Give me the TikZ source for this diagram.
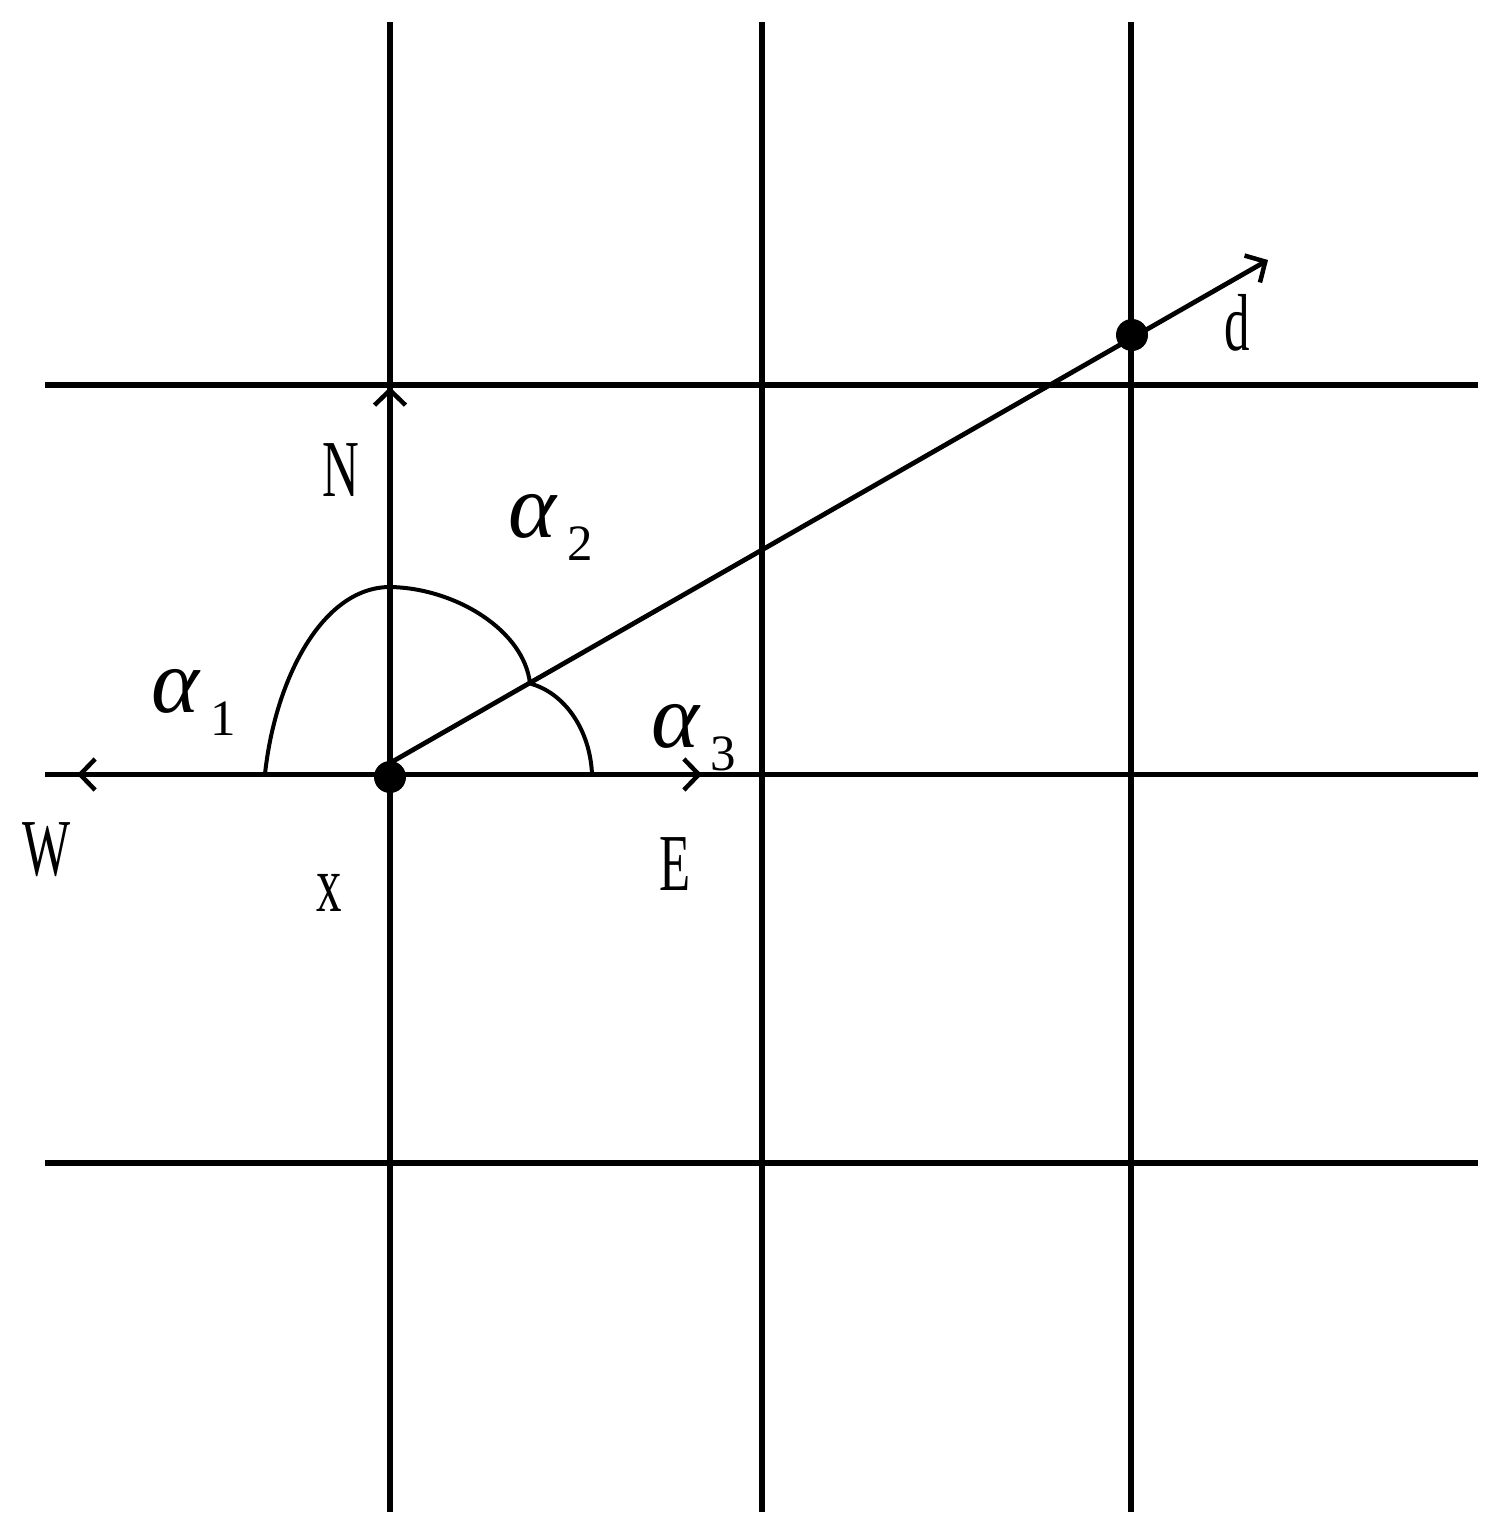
\documentclass[tikz,border=0pt]{standalone}
\usepackage{fontspec}
\setmainfont{Liberation Serif}
\usepackage{graphicx}
\usetikzlibrary{arrows.meta}
\newcommand{\Narrow}[1]{\scalebox{0.63}[1]{#1}}
\newcommand{\Angle}[1]{{\itshape α}\hspace{0.22cm}\raisebox{-0.46cm}{\fontsize{29}{30}\selectfont #1}}
\tikzset{
  gridline/.style={line width=0.105cm},
  ray/.style={line width=0.095cm, -{Straight Barb[length=0.3cm,width=0.62cm,line width=0.09cm]}},
  anglearc/.style={line width=0.08cm},
  dot/.style={circle, fill=black, inner sep=0pt, minimum size=0.64cm},
  dirlabel/.style={inner sep=0pt, font=\fontsize{46}{52}\selectfont},
  anglelabel/.style={inner sep=0pt, anchor=base west, font=\fontsize{52}{58}\selectfont}
}

\begin{document}
\begin{tikzpicture}[x=0.02cm, y=-0.02cm]
    \useasboundingbox (0,0) rectangle (1510,1532);

    % Grid
    \foreach \gx in {390,762,1131}
      \draw[gridline] (\gx,22) -- (\gx,1512);
    \foreach \gy in {385,774.5,1163}
      \draw[gridline] (45,\gy) -- (1478,\gy);

    % Define nodes
    \coordinate (Xmid) at (390,774.5);
    \coordinate (Xtop) at (390,763);
    \coordinate (Wtip) at (77,774.5);
    \coordinate (Etip) at (702,774.5);
    \coordinate (Ntip) at (390,387);
    \coordinate (Dtip) at (1268,260);

    % Connect the nodes
    \draw[ray] (Xmid) -- (Wtip);
    \draw[ray] (Xmid) -- (Etip);
    \draw[ray] (Xmid) -- (Ntip);
    \draw[ray] (Xtop) -- (Dtip);

    \node[dot] (X) at (390,777) {};
    \node[dot] (D) at (1132,335) {};

    % Angles
    \coordinate (A1) at (265,774);
    \coordinate (A2) at (390,587);
    \coordinate (A3) at (530,683.5);
    \coordinate (A4) at (592,774);
    \draw[anglearc] (A1) .. controls (275,680) and (322,587) .. (A2)
                         .. controls (455,588) and (524,630) .. (A3);
    \draw[anglearc] (A3) .. controls (565,693) and (590,730) .. (A4);

    % Labels
    \node[dirlabel] (lN) at (341,470) {\Narrow{N}};
    \node[dirlabel] (lW) at (47,850) {\Narrow{W}};
    \node[dirlabel] (lE) at (675,864) {\Narrow{E}};
    \node[dirlabel] (lX) at (329,893) {\Narrow{x}};
    \node[dirlabel] (lD) at (1237,323) {\Narrow{d}};
    \node[anglelabel] (al1) at (151,712) {\Angle{1}};
    \node[anglelabel] (al2) at (508,537) {\Angle{2}};
    \node[anglelabel] (al3) at (651,747) {\Angle{3}};
\end{tikzpicture}
\end{document}
